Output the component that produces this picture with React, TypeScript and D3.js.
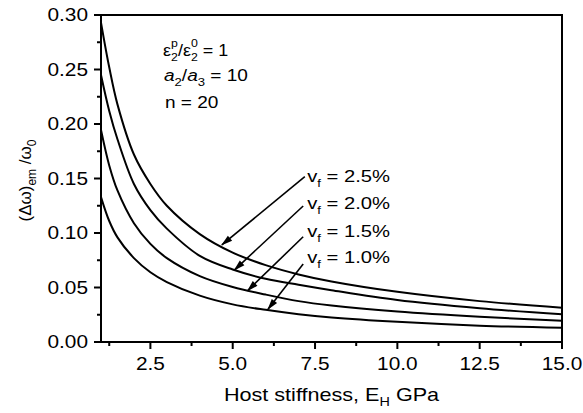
import React from "react";
import * as d3 from "d3";

// readings taken off the figure (E_H in GPa)
const hostStiffness = [1, 1.25, 1.5, 2, 2.5, 3, 4, 5, 6, 7, 8, 10, 12.5, 15];
const vf25 = [0.293, 0.252, 0.218, 0.172, 0.145, 0.125, 0.099, 0.082, 0.0705, 0.062, 0.0555, 0.046, 0.0375, 0.0315];
const vf20 = [0.245, 0.212, 0.186, 0.145, 0.121, 0.104, 0.079, 0.0665, 0.058, 0.0525, 0.0475, 0.0385, 0.031, 0.0254];
const vf15 = [0.1945, 0.162, 0.139, 0.109, 0.09, 0.077, 0.0605, 0.0505, 0.0435, 0.0375, 0.0335, 0.028, 0.0232, 0.0195];
const vf10 = [0.133, 0.111, 0.096, 0.077, 0.064, 0.055, 0.0425, 0.0345, 0.0295, 0.0255, 0.0225, 0.0185, 0.015, 0.0131];
const seriesValues = [vf25, vf20, vf15, vf10];

const vfLabels = ["2.5%", "2.0%", "1.5%", "1.0%"];
// arrow start (label side) and tip (on the curve), data units
const arrowFrom = [[7.19, 0.1517], [7.14, 0.1248], [7.14, 0.0966], [7.14, 0.0716]];
const arrowTo = [[4.67, 0.089], [5.05, 0.066], [5.45, 0.047], [6.07, 0.03]];
const labelAt = [[7.26, 0.147], [7.26, 0.122], [7.26, 0.0966], [7.26, 0.0722]];

const xTicks = [2.5, 5.0, 7.5, 10.0, 12.5, 15.0];
const xMinor = [1.25, 3.75, 6.25, 8.75, 11.25, 13.75];
const yTicks = [0, 0.05, 0.1, 0.15, 0.2, 0.25, 0.3];
const yMinor = [0.025, 0.075, 0.125, 0.175, 0.225, 0.275];

const W = 583;
const H = 413;
const margin = { left: 101, right: 21, top: 15, bottom: 71 };
const font = "'Liberation Sans', Arial, sans-serif";
const SX = 1.19; // glyphs in the figure are a little wide

// text drawn with a horizontal stretch
const WideText = ({ x, y, sx = SX, children, ...rest }: any) => (
  <g transform={`translate(${x},${y}) scale(${sx},1)`}>
    <text {...rest}>{children}</text>
  </g>
);

export default function App() {
  const x = d3.scaleLinear().domain([1, 15]).range([margin.left, W - margin.right]);
  const y = d3.scaleLinear().domain([0, 0.3]).range([H - margin.bottom, margin.top]);

  const line = d3
    .line<number>()
    .x((_, i) => x(hostStiffness[i]))
    .y((d) => y(d))
    .curve(d3.curveCatmullRom.alpha(0.5));

  const x0 = x(1);
  const x1 = x(15);
  const y0 = y(0);
  const y1 = y(0.3);

  return (
    <svg
      width={W}
      height={H}
      style={{ position: "absolute", left: 0, top: 0, background: "#fff" }}
      fontFamily={font}
    >
      <defs>
        <marker id="arr" viewBox="0 0 12 10" refX="11" refY="5" markerWidth="8" markerHeight="6" orient="auto">
          <path d="M0,1.5 L12,5 L0,8.5 Z" fill="#000" />
        </marker>
        <clipPath id="plot">
          <rect x={x0} y={y1} width={x1 - x0} height={y0 - y1} />
        </clipPath>
      </defs>

      {/* curves */}
      <g clipPath="url(#plot)">
        {seriesValues.map((vals, i) => (
          <path key={i} d={line(vals) ?? ""} fill="none" stroke="#000" strokeWidth={2} />
        ))}
      </g>

      {/* frame */}
      <rect x={x0} y={y1} width={x1 - x0} height={y0 - y1} fill="none" stroke="#000" strokeWidth={2} />

      {/* y axis */}
      {yTicks.map((t) => (
        <g key={"y" + t}>
          <line x1={x0 - 7} x2={x0} y1={y(t)} y2={y(t)} stroke="#000" strokeWidth={2} />
          <WideText x={x0 - 13} y={y(t) + 6} fontSize={17.5} textAnchor="end">
            {t.toFixed(2)}
          </WideText>
        </g>
      ))}
      {yMinor.map((t) => (
        <line key={"ym" + t} x1={x0 - 4} x2={x0} y1={y(t)} y2={y(t)} stroke="#000" strokeWidth={2} />
      ))}

      {/* x axis */}
      {xTicks.map((t) => (
        <g key={"x" + t}>
          <line x1={x(t)} x2={x(t)} y1={y0} y2={y0 + 7} stroke="#000" strokeWidth={2} />
          <WideText x={x(t)} y={y0 + 28} fontSize={17.5} textAnchor="middle">
            {t.toFixed(1)}
          </WideText>
        </g>
      ))}
      {xMinor.map((t) => (
        <line key={"xm" + t} x1={x(t)} x2={x(t)} y1={y0} y2={y0 + 4} stroke="#000" strokeWidth={2} />
      ))}

      {/* axis titles */}
      <WideText x={(x0 + x1) / 2} y={H - 12} fontSize={18} sx={1.2} textAnchor="middle">
        Host stiffness, E
        <tspan fontSize={12} dy={5}>H</tspan>
        <tspan dy={-5}> GPa</tspan>
      </WideText>
      <text transform={`translate(31, ${(y0 + y1) / 2 + 2}) rotate(-90)`} fontSize={17} textAnchor="middle">
        (Δω)
        <tspan fontSize={12} dy={5}>em</tspan>
        <tspan dy={-5}> /ω</tspan>
        <tspan fontSize={12} dy={5}>0</tspan>
      </text>

      {/* parameter block */}
      <WideText x={163} y={56} fontSize={16} sx={1.12}>
        ε<tspan fontSize={11} dy={-9}>p</tspan>
        <tspan fontSize={11} dx={-6} dy={14}>2</tspan>
        <tspan dy={-5}>/ε</tspan>
        <tspan fontSize={11} dy={-9}>0</tspan>
        <tspan fontSize={11} dx={-6} dy={14}>2</tspan>
        <tspan dy={-5}> = 1</tspan>
      </WideText>
      <WideText x={164} y={81} fontSize={16}>
        <tspan fontStyle="italic">a</tspan>
        <tspan fontSize={11} dy={5}>2</tspan>
        <tspan dy={-5}>/</tspan>
        <tspan fontStyle="italic">a</tspan>
        <tspan fontSize={11} dy={5}>3</tspan>
        <tspan dy={-5}> = 10</tspan>
      </WideText>
      <WideText x={165} y={108} fontSize={16}>
        n = 20
      </WideText>

      {/* v_f labels and arrows */}
      {vfLabels.map((lab, i) => (
        <g key={lab}>
          <line
            x1={x(arrowFrom[i][0])}
            y1={y(arrowFrom[i][1])}
            x2={x(arrowTo[i][0])}
            y2={y(arrowTo[i][1])}
            stroke="#000"
            strokeWidth={1.6}
            markerEnd="url(#arr)"
          />
          <WideText x={x(labelAt[i][0])} y={y(labelAt[i][1])} fontSize={17}>
            v<tspan fontSize={11} dy={5}>f</tspan>
            <tspan dy={-5}> = {lab}</tspan>
          </WideText>
        </g>
      ))}
    </svg>
  );
}
